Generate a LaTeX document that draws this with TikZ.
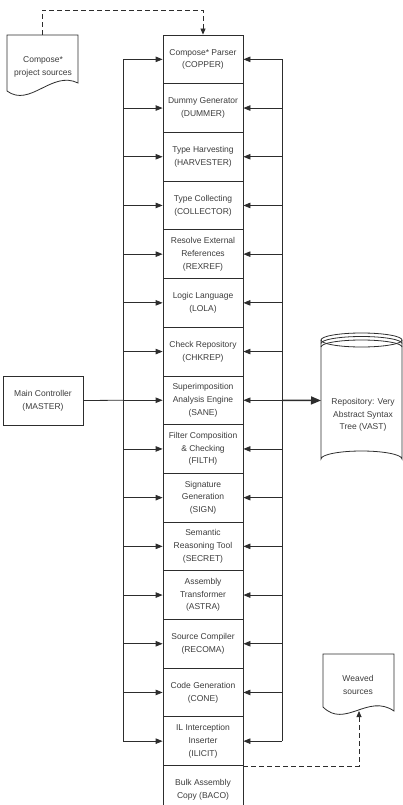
\documentclass[tikz,border=0pt]{standalone}
\usepackage{fontspec}
\setmainfont{Liberation Sans}
\usetikzlibrary{arrows.meta,calc}
\definecolor{ink}{RGB}{45,45,45}
\definecolor{txt}{RGB}{60,60,60}
\begin{document}
\begin{tikzpicture}[x=1pt,y=-1pt,
  every node/.style={font=\fontsize{8.5}{12.7}\selectfont, text=txt, align=center},
  stagebox/.style={draw=ink, line width=0.8pt, minimum width=80pt, minimum height=48.7pt, inner sep=0pt},
  conn/.style={draw=ink, line width=0.8pt},
  arr/.style={conn, -{Triangle[length=7pt,width=5.5pt]}},
  dasharr/.style={conn, dash pattern=on 5pt off 3pt, -{Triangle[length=6pt,width=5pt]}},
  doc/.style={draw=ink, line width=0.8pt, fill=white}]
\useasboundingbox (0,0) rectangle (403,805);
\clip (0,0) rectangle (403,805);
% stage boxes
\foreach \i/\t in {1/{Compose* Parser\\(COPPER)},2/{Dummy Generator\\(DUMMER)},3/{Type Harvesting\\(HARVESTER)},4/{Type Collecting\\(COLLECTOR)},5/{Resolve External\\References\\(REXREF)},6/{Logic Language\\(LOLA)},7/{Check Repository\\(CHKREP)},8/{Superimposition\\Analysis Engine\\(SANE)},9/{Filter Composition\\\& Checking\\(FILTH)},10/{Signature\\Generation\\(SIGN)},11/{Semantic\\Reasoning Tool\\(SECRET)},12/{Assembly\\Transformer\\(ASTRA)},13/{Source Compiler\\(RECOMA)},14/{Code Generation\\(CONE)},15/{IL Interception\\Inserter\\(ILICIT)},16/{Bulk Assembly\\Copy (BACO)}}
  {\node[stagebox] (b\i) at (203, {35+(\i-0.5)*48.7}) {\t};}
% buses
\coordinate (lbus) at (123,0);
\coordinate (rbus) at (282,0);
\draw[conn] (b1.west -| lbus) -- (b15.west -| lbus);
\draw[conn] (b1.east -| rbus) -- (b15.east -| rbus);
\foreach \i in {1,...,15}{
  \draw[arr] (b\i.west -| lbus) -- (b\i.west);
  \draw[arr] (b\i.east -| rbus) -- (b\i.east);
}
% main controller
\node[stagebox, minimum width=80pt, minimum height=49pt] (master) at (43,400.5) {Main Controller\\(MASTER)};
\draw[conn] (master.east) -- (b8.west -| lbus);
% repository cylinder
\draw[draw=ink, line width=0.8pt] (321,340) -- (321,459) arc (180:360:40.5 and 8) -- (402,340);
\draw[draw=ink, line width=0.8pt] (361.5,340) ellipse (40.5 and 7);
\draw[draw=ink, line width=0.8pt] (321,343.5) arc (180:360:40.5 and 7);
\draw[draw=ink, line width=0.8pt] (321,347) arc (180:360:40.5 and 7);
\node (vast) at (363,415) {Repository: Very\\Abstract Syntax\\Tree (VAST)};
\coordinate (vastin) at (321,400.5);
\draw[conn, line width=1.5pt, -{Triangle[length=10pt,width=8pt]}] (b8.east -| rbus) -- (vastin);
% compose* project sources document
\draw[doc] (7,35) -- (78,35) -- (78,83) .. controls (52,70) and (30,108) .. (7,91) -- cycle;
\node (src) at (43,67) {Compose*\\project sources};
\coordinate (srctop) at (42,35);
\draw[dasharr] (srctop) -- (42,10) -| (b1.north);
% weaved sources document
\draw[doc] (323,654) -- (394,654) -- (394,711) .. controls (368,693) and (345,729) .. (323,707) -- cycle;
\node (weaved) at (358,685) {Weaved\\sources};
\coordinate (weavedin) at (359,711);
\draw[dasharr] (b15.south east) -| (weavedin);
\end{tikzpicture}
\end{document}
